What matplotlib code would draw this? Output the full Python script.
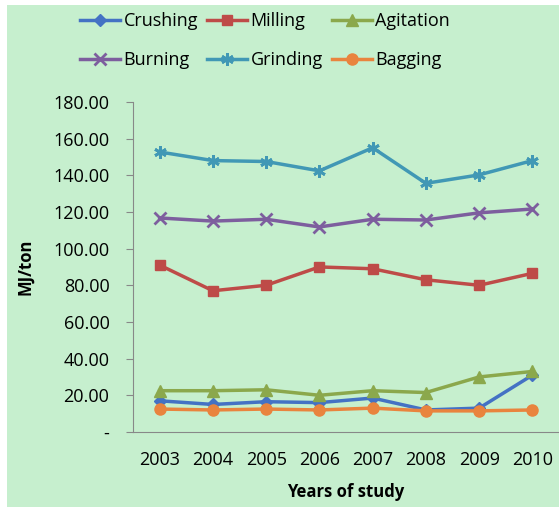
##load libraries
import numpy as np
import matplotlib.pyplot as plt
from matplotlib.patches import Rectangle

##data
years = ['2003', '2004', '2005', '2006', '2007', '2008', '2009', '2010']
crushing = [17.0, 15.0, 16.5, 16.0, 18.5, 12.0, 13.0, 31.0]
milling = [91.0, 77.0, 80.0, 90.0, 89.0, 83.0, 80.0, 86.5]
agitation = [22.5, 22.5, 23.0, 20.0, 22.5, 21.5, 30.0, 33.0]
burning = [116.7, 115.0, 116.0, 111.8, 116.0, 115.6, 119.5, 121.6]
grinding = [152.7, 148.0, 147.5, 142.4, 155.0, 135.6, 140.2, 148.0]
bagging = [12.5, 12.0, 12.5, 12.0, 13.0, 11.5, 11.5, 12.0]

bg = '#C6EFCE'
plt.rcParams['font.family'] = ['Open Sans', 'DejaVu Sans']

##set up the plot
fig = plt.figure(figsize=(5.59, 5.07), dpi=100)
fig.patch.set_facecolor('white')
fig.add_artist(Rectangle((7/559, 0), 1, 1 - 5/507, transform=fig.transFigure,
                         facecolor=bg, edgecolor='none', zorder=-10))
ax = fig.add_axes([0.238, 0.148, 0.762, 0.651])
ax.set_facecolor(bg)

x = np.arange(len(years))
l1, = ax.plot(x, crushing, color='#4472C4', marker='D', markersize=6, lw=2.5, label='Crushing')
l2, = ax.plot(x, milling, color='#BE4B48', marker='s', markersize=7, lw=2.5, label='Milling')
l3, = ax.plot(x, agitation, color='#8BA84C', marker='^', markersize=9, lw=2.5, label='Agitation')
l4, = ax.plot(x, burning, color='#7D5E9E', marker='x', markersize=8, mew=2, lw=2.5, label='Burning')
l5, = ax.plot(x, grinding, color='#4198B5', marker=(6, 2, 0), markersize=9, mew=2, lw=2.5, label='Grinding')
l6, = ax.plot(x, bagging, color='#E9843E', marker='o', markersize=8, lw=2.5, label='Bagging')

##axes
ax.set_xlim(-0.5, 7.5)
ax.set_ylim(0, 180)
ax.set_yticks(np.arange(0, 181, 20))
ax.set_yticklabels(['-'] + ['%.2f' % v for v in np.arange(20, 181, 20)], fontsize=13)
ax.set_xticks(x)
ax.set_xticklabels(years, fontsize=13)
ax.tick_params(axis='x', length=0, pad=14)
ax.tick_params(axis='y', length=5, color='#888888', pad=12)
for s in ['top', 'right']:
    ax.spines[s].set_visible(False)
for s in ['left', 'bottom']:
    ax.spines[s].set_color('#888888')
ax.set_ylabel('MJ/ton', fontsize=12, fontweight='bold', labelpad=14)
ax.set_xlabel('Years of study', fontsize=12, fontweight='bold', labelpad=10)

##legend, filled row by row like the original
handles = [l1, l4, l2, l5, l3, l6]
ax.legend(handles=handles, labels=[h.get_label() for h in handles],
          loc='lower center', bbox_to_anchor=(0.31, 1.05), ncol=3, frameon=False,
          fontsize=13, handlelength=2.2, columnspacing=0.5, handletextpad=0.2,
          labelspacing=1.15)

fig.savefig('out.png', dpi=100, facecolor=fig.get_facecolor())
